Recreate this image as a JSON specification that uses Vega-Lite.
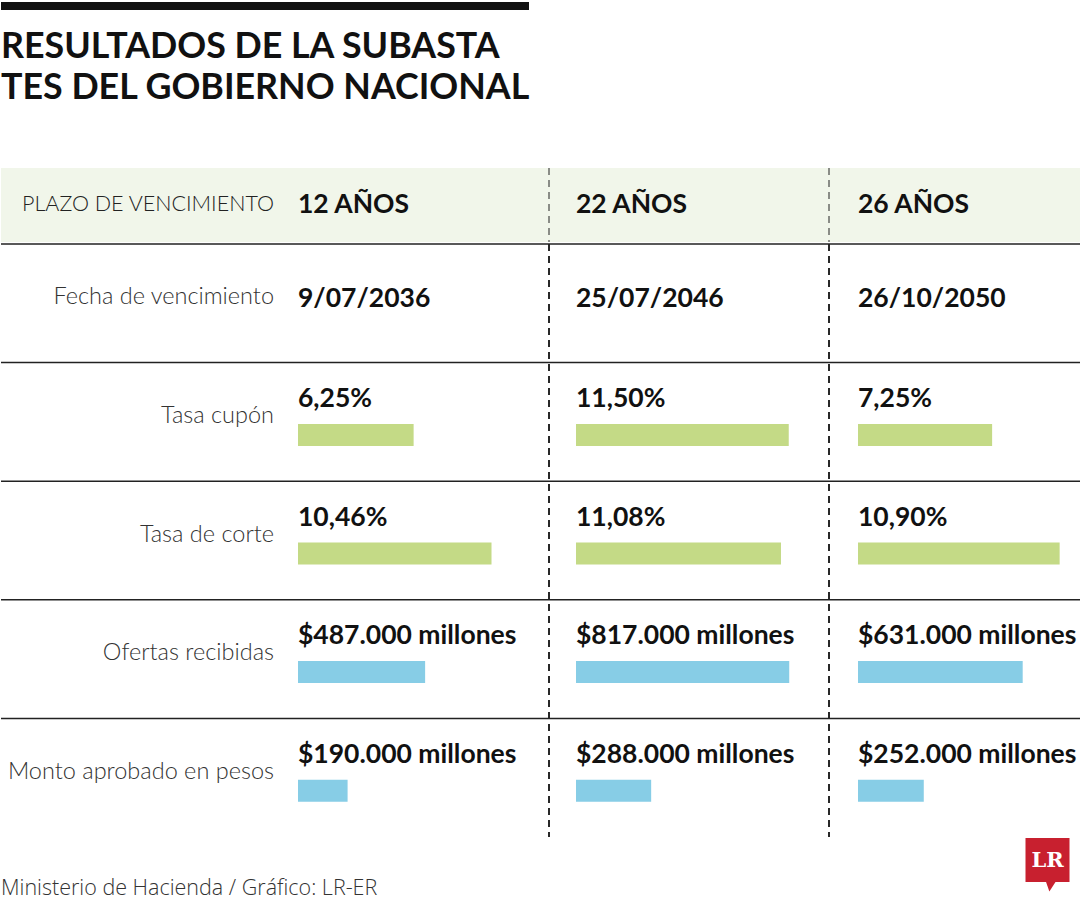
{
  "$schema": "https://vega.github.io/schema/vega-lite/v6.json",
  "background": "white",
  "padding": 0,
  "config": {"view": {"stroke": null}, "concat": {"spacing": 0}},
  "datasets": {
    "filas": [
      {"fila": "Fecha de vencimiento"},
      {"fila": "Tasa cupón"},
      {"fila": "Tasa de corte"},
      {"fila": "Ofertas recibidas"},
      {"fila": "Monto aprobado en pesos"}
    ],
    "columnas": [
      {"plazo": "PLAZO DE VENCIMIENTO"},
      {"plazo": "12 AÑOS"},
      {"plazo": "22 AÑOS"},
      {"plazo": "26 AÑOS"}
    ],
    "celdas": [
      {"plazo": "12 AÑOS", "fila": "Fecha de vencimiento", "tipo": "fecha", "valor": null, "texto": "9/07/2036"},
      {"plazo": "12 AÑOS", "fila": "Tasa cupón", "tipo": "tasa", "valor": 6.25, "texto": "6,25%"},
      {"plazo": "12 AÑOS", "fila": "Tasa de corte", "tipo": "tasa", "valor": 10.46, "texto": "10,46%"},
      {"plazo": "12 AÑOS", "fila": "Ofertas recibidas", "tipo": "pesos", "valor": 487000, "texto": "$487.000 millones"},
      {"plazo": "12 AÑOS", "fila": "Monto aprobado en pesos", "tipo": "pesos", "valor": 190000, "texto": "$190.000 millones"},
      {"plazo": "22 AÑOS", "fila": "Fecha de vencimiento", "tipo": "fecha", "valor": null, "texto": "25/07/2046"},
      {"plazo": "22 AÑOS", "fila": "Tasa cupón", "tipo": "tasa", "valor": 11.5, "texto": "11,50%"},
      {"plazo": "22 AÑOS", "fila": "Tasa de corte", "tipo": "tasa", "valor": 11.08, "texto": "11,08%"},
      {"plazo": "22 AÑOS", "fila": "Ofertas recibidas", "tipo": "pesos", "valor": 817000, "texto": "$817.000 millones"},
      {"plazo": "22 AÑOS", "fila": "Monto aprobado en pesos", "tipo": "pesos", "valor": 288000, "texto": "$288.000 millones"},
      {"plazo": "26 AÑOS", "fila": "Fecha de vencimiento", "tipo": "fecha", "valor": null, "texto": "26/10/2050"},
      {"plazo": "26 AÑOS", "fila": "Tasa cupón", "tipo": "tasa", "valor": 7.25, "texto": "7,25%"},
      {"plazo": "26 AÑOS", "fila": "Tasa de corte", "tipo": "tasa", "valor": 10.9, "texto": "10,90%"},
      {"plazo": "26 AÑOS", "fila": "Ofertas recibidas", "tipo": "pesos", "valor": 631000, "texto": "$631.000 millones"},
      {"plazo": "26 AÑOS", "fila": "Monto aprobado en pesos", "tipo": "pesos", "valor": 252000, "texto": "$252.000 millones"}
    ]
  },
  "spacing": 0,
  "vconcat": [
    {
      "width": 528, "height": 8,
      "view": {"fill": "#111111", "stroke": null},
      "data": {"values": [{}]},
      "mark": {"type": "text", "text": ""},
      "title": {
        "text": ["RESULTADOS DE LA SUBASTA", "TES DEL GOBIERNO NACIONAL"],
        "orient": "bottom", "anchor": "start", "offset": 19,
        "font": "Lato, sans-serif",
        "fontSize": 35.8, "fontWeight": "bold", "lineHeight": 41, "color": "#111111"
      }
    },
    {
      "width": 10, "height": 61,
      "data": {"values": [{}]},
      "mark": {"type": "text", "text": ""}
    },
    {
      "spacing": 0,
      "bounds": "flush",
      "hconcat": [
        {
          "width": 285, "height": 74,
          "view": {"fill": "#f1f6ea", "stroke": null},
          "data": {"name": "columnas"},
          "transform": [{"filter": "datum.plazo === 'PLAZO DE VENCIMIENTO'"}],
          "mark": {"type": "text", "align": "right", "baseline": "middle", "dx": -12, "font": "Lato, sans-serif", "fontSize": 21.5, "fontWeight": 300, "color": "#222222"},
          "encoding": {"x": {"value": "width"}, "text": {"field": "plazo"}}
        },
        {
          "width": 263, "height": 74,
          "view": {"fill": "#f1f6ea", "stroke": null},
          "data": {"name": "columnas"},
          "transform": [{"filter": "datum.plazo === '12 AÑOS'"}],
          "mark": {"type": "text", "align": "left", "baseline": "middle", "dx": 12, "font": "Lato, sans-serif", "fontSize": 26.5, "fontWeight": "bold", "color": "#111111"},
          "encoding": {"x": {"value": 0}, "text": {"field": "plazo"}}
        },
        {
          "width": 280, "height": 74,
          "view": {"fill": "#f1f6ea", "stroke": null},
          "data": {"name": "columnas"},
          "transform": [{"filter": "datum.plazo === '22 AÑOS'"}],
          "layer": [
            {"mark": {"type": "rule", "color": "#222222", "strokeWidth": 1, "strokeDash": [7, 5]}, "encoding": {"x": {"value": 0}}},
            {"mark": {"type": "text", "align": "left", "baseline": "middle", "dx": 27, "font": "Lato, sans-serif", "fontSize": 26.5, "fontWeight": "bold", "color": "#111111"},
             "encoding": {"x": {"value": 0}, "text": {"field": "plazo"}}}
          ]
        },
        {
          "width": 252, "height": 74,
          "view": {"fill": "#f1f6ea", "stroke": null},
          "data": {"name": "columnas"},
          "transform": [{"filter": "datum.plazo === '26 AÑOS'"}],
          "layer": [
            {"mark": {"type": "rule", "color": "#222222", "strokeWidth": 1, "strokeDash": [7, 5]}, "encoding": {"x": {"value": 0}}},
            {"mark": {"type": "text", "align": "left", "baseline": "middle", "dx": 29, "font": "Lato, sans-serif", "fontSize": 26.5, "fontWeight": "bold", "color": "#111111"},
             "encoding": {"x": {"value": 0}, "text": {"field": "plazo"}}}
          ]
        }
      ]
    },
    {
      "spacing": 0,
      "bounds": "flush",
      "hconcat": [
        {
          "width": 285, "height": 593,
          "data": {"name": "filas"},
          "layer": [
            {"mark": {"type": "rule", "color": "#222222", "strokeWidth": 1.5},
             "encoding": {"y": {"field": "fila", "type": "nominal", "bandPosition": 0, "axis": null, "scale": {"type": "band", "domain": ["Fecha de vencimiento", "Tasa cupón", "Tasa de corte", "Ofertas recibidas", "Monto aprobado en pesos"], "paddingInner": 0, "paddingOuter": 0}}}},
            {"mark": {"type": "text", "align": "right", "baseline": "middle", "dx": -12, "dy": -6, "font": "Lato, sans-serif", "fontSize": 23.5, "fontWeight": 300, "color": "#333333"},
             "encoding": {"x": {"value": "width"}, "y": {"field": "fila", "type": "nominal", "bandPosition": 0.5, "axis": null, "scale": {"type": "band", "domain": ["Fecha de vencimiento", "Tasa cupón", "Tasa de corte", "Ofertas recibidas", "Monto aprobado en pesos"], "paddingInner": 0, "paddingOuter": 0}}, "text": {"field": "fila"}}}
          ]
        },
        {
          "width": 263, "height": 593,
          "data": {"name": "celdas"},
          "transform": [{"filter": "datum.plazo === '12 AÑOS'"}],
          "layer": [
            {"mark": {"type": "rule", "color": "#222222", "strokeWidth": 1.5},
             "encoding": {"y": {"field": "fila", "type": "nominal", "bandPosition": 0, "axis": null, "scale": {"type": "band", "domain": ["Fecha de vencimiento", "Tasa cupón", "Tasa de corte", "Ofertas recibidas", "Monto aprobado en pesos"], "paddingInner": 0, "paddingOuter": 0}}}},
            {"transform": [{"filter": "datum.tipo === 'fecha'"}],
             "mark": {"type": "text", "align": "left", "baseline": "middle", "dx": 12, "dy": -4, "font": "Lato, sans-serif", "fontSize": 26.5, "fontWeight": "bold", "color": "#111111"},
             "encoding": {"x": {"value": 0}, "y": {"field": "fila", "type": "nominal", "bandPosition": 0.5, "axis": null, "scale": {"type": "band", "domain": ["Fecha de vencimiento", "Tasa cupón", "Tasa de corte", "Ofertas recibidas", "Monto aprobado en pesos"], "paddingInner": 0, "paddingOuter": 0}}, "text": {"field": "texto"}}},
            {"transform": [{"filter": "datum.tipo !== 'fecha'"}],
             "mark": {"type": "text", "align": "left", "baseline": "middle", "dx": 12, "dy": -23, "font": "Lato, sans-serif", "fontSize": 26.5, "fontWeight": "bold", "color": "#111111"},
             "encoding": {"x": {"value": 0}, "y": {"field": "fila", "type": "nominal", "bandPosition": 0.5, "axis": null, "scale": {"type": "band", "domain": ["Fecha de vencimiento", "Tasa cupón", "Tasa de corte", "Ofertas recibidas", "Monto aprobado en pesos"], "paddingInner": 0, "paddingOuter": 0}}, "text": {"field": "texto"}}},
            {"transform": [{"filter": "datum.tipo === 'tasa'"}],
             "mark": {"type": "bar", "height": 22, "yOffset": 13, "color": "#c4da86"},
             "encoding": {"x": {"field": "valor", "type": "quantitative", "axis": null, "scale": {"domain": [0, 12], "range": [12, 234], "nice": false}}, "y": {"field": "fila", "type": "nominal", "axis": null, "scale": {"type": "band", "domain": ["Fecha de vencimiento", "Tasa cupón", "Tasa de corte", "Ofertas recibidas", "Monto aprobado en pesos"], "paddingInner": 0, "paddingOuter": 0}}}},
            {"transform": [{"filter": "datum.tipo === 'pesos'"}],
             "mark": {"type": "bar", "height": 22, "yOffset": 13, "color": "#87cde6"},
             "encoding": {"x": {"field": "valor", "type": "quantitative", "axis": null, "scale": {"domain": [0, 800000], "range": [12, 220.8], "nice": false}}, "y": {"field": "fila", "type": "nominal", "axis": null, "scale": {"type": "band", "domain": ["Fecha de vencimiento", "Tasa cupón", "Tasa de corte", "Ofertas recibidas", "Monto aprobado en pesos"], "paddingInner": 0, "paddingOuter": 0}}}}
          ],
          "resolve": {"scale": {"x": "independent"}}
        },
        {
          "width": 280, "height": 593,
          "data": {"name": "celdas"},
          "transform": [{"filter": "datum.plazo === '22 AÑOS'"}],
          "layer": [
            {"mark": {"type": "rule", "color": "#222222", "strokeWidth": 1.5},
             "encoding": {"y": {"field": "fila", "type": "nominal", "bandPosition": 0, "axis": null, "scale": {"type": "band", "domain": ["Fecha de vencimiento", "Tasa cupón", "Tasa de corte", "Ofertas recibidas", "Monto aprobado en pesos"], "paddingInner": 0, "paddingOuter": 0}}}},
            {"mark": {"type": "rule", "color": "#222222", "strokeWidth": 1, "strokeDash": [7, 5]}, "encoding": {"x": {"value": 0}}},
            {"transform": [{"filter": "datum.tipo === 'fecha'"}],
             "mark": {"type": "text", "align": "left", "baseline": "middle", "dx": 27, "dy": -4, "font": "Lato, sans-serif", "fontSize": 26.5, "fontWeight": "bold", "color": "#111111"},
             "encoding": {"x": {"value": 0}, "y": {"field": "fila", "type": "nominal", "bandPosition": 0.5, "axis": null, "scale": {"type": "band", "domain": ["Fecha de vencimiento", "Tasa cupón", "Tasa de corte", "Ofertas recibidas", "Monto aprobado en pesos"], "paddingInner": 0, "paddingOuter": 0}}, "text": {"field": "texto"}}},
            {"transform": [{"filter": "datum.tipo !== 'fecha'"}],
             "mark": {"type": "text", "align": "left", "baseline": "middle", "dx": 27, "dy": -23, "font": "Lato, sans-serif", "fontSize": 26.5, "fontWeight": "bold", "color": "#111111"},
             "encoding": {"x": {"value": 0}, "y": {"field": "fila", "type": "nominal", "bandPosition": 0.5, "axis": null, "scale": {"type": "band", "domain": ["Fecha de vencimiento", "Tasa cupón", "Tasa de corte", "Ofertas recibidas", "Monto aprobado en pesos"], "paddingInner": 0, "paddingOuter": 0}}, "text": {"field": "texto"}}},
            {"transform": [{"filter": "datum.tipo === 'tasa'"}],
             "mark": {"type": "bar", "height": 22, "yOffset": 13, "color": "#c4da86"},
             "encoding": {"x": {"field": "valor", "type": "quantitative", "axis": null, "scale": {"domain": [0, 12], "range": [27, 249], "nice": false}}, "y": {"field": "fila", "type": "nominal", "axis": null, "scale": {"type": "band", "domain": ["Fecha de vencimiento", "Tasa cupón", "Tasa de corte", "Ofertas recibidas", "Monto aprobado en pesos"], "paddingInner": 0, "paddingOuter": 0}}}},
            {"transform": [{"filter": "datum.tipo === 'pesos'"}],
             "mark": {"type": "bar", "height": 22, "yOffset": 13, "color": "#87cde6"},
             "encoding": {"x": {"field": "valor", "type": "quantitative", "axis": null, "scale": {"domain": [0, 800000], "range": [27, 235.8], "nice": false}}, "y": {"field": "fila", "type": "nominal", "axis": null, "scale": {"type": "band", "domain": ["Fecha de vencimiento", "Tasa cupón", "Tasa de corte", "Ofertas recibidas", "Monto aprobado en pesos"], "paddingInner": 0, "paddingOuter": 0}}}}
          ],
          "resolve": {"scale": {"x": "independent"}}
        },
        {
          "width": 252, "height": 593,
          "data": {"name": "celdas"},
          "transform": [{"filter": "datum.plazo === '26 AÑOS'"}],
          "layer": [
            {"mark": {"type": "rule", "color": "#222222", "strokeWidth": 1.5},
             "encoding": {"y": {"field": "fila", "type": "nominal", "bandPosition": 0, "axis": null, "scale": {"type": "band", "domain": ["Fecha de vencimiento", "Tasa cupón", "Tasa de corte", "Ofertas recibidas", "Monto aprobado en pesos"], "paddingInner": 0, "paddingOuter": 0}}}},
            {"mark": {"type": "rule", "color": "#222222", "strokeWidth": 1, "strokeDash": [7, 5]}, "encoding": {"x": {"value": 0}}},
            {"transform": [{"filter": "datum.tipo === 'fecha'"}],
             "mark": {"type": "text", "align": "left", "baseline": "middle", "dx": 29, "dy": -4, "font": "Lato, sans-serif", "fontSize": 26.5, "fontWeight": "bold", "color": "#111111"},
             "encoding": {"x": {"value": 0}, "y": {"field": "fila", "type": "nominal", "bandPosition": 0.5, "axis": null, "scale": {"type": "band", "domain": ["Fecha de vencimiento", "Tasa cupón", "Tasa de corte", "Ofertas recibidas", "Monto aprobado en pesos"], "paddingInner": 0, "paddingOuter": 0}}, "text": {"field": "texto"}}},
            {"transform": [{"filter": "datum.tipo !== 'fecha'"}],
             "mark": {"type": "text", "align": "left", "baseline": "middle", "dx": 29, "dy": -23, "font": "Lato, sans-serif", "fontSize": 26.5, "fontWeight": "bold", "color": "#111111"},
             "encoding": {"x": {"value": 0}, "y": {"field": "fila", "type": "nominal", "bandPosition": 0.5, "axis": null, "scale": {"type": "band", "domain": ["Fecha de vencimiento", "Tasa cupón", "Tasa de corte", "Ofertas recibidas", "Monto aprobado en pesos"], "paddingInner": 0, "paddingOuter": 0}}, "text": {"field": "texto"}}},
            {"transform": [{"filter": "datum.tipo === 'tasa'"}],
             "mark": {"type": "bar", "height": 22, "yOffset": 13, "color": "#c4da86"},
             "encoding": {"x": {"field": "valor", "type": "quantitative", "axis": null, "scale": {"domain": [0, 12], "range": [29, 251], "nice": false}}, "y": {"field": "fila", "type": "nominal", "axis": null, "scale": {"type": "band", "domain": ["Fecha de vencimiento", "Tasa cupón", "Tasa de corte", "Ofertas recibidas", "Monto aprobado en pesos"], "paddingInner": 0, "paddingOuter": 0}}}},
            {"transform": [{"filter": "datum.tipo === 'pesos'"}],
             "mark": {"type": "bar", "height": 22, "yOffset": 13, "color": "#87cde6"},
             "encoding": {"x": {"field": "valor", "type": "quantitative", "axis": null, "scale": {"domain": [0, 800000], "range": [29, 237.8], "nice": false}}, "y": {"field": "fila", "type": "nominal", "axis": null, "scale": {"type": "band", "domain": ["Fecha de vencimiento", "Tasa cupón", "Tasa de corte", "Ofertas recibidas", "Monto aprobado en pesos"], "paddingInner": 0, "paddingOuter": 0}}}}
          ],
          "resolve": {"scale": {"x": "independent"}}
        }
      ]
    },
    {
      "width": 1080, "height": 65,
      "data": {"values": [{"fuente": "Ministerio de Hacienda / Gráfico: LR-ER", "logo": "LR"}]},
      "layer": [
        {"mark": {"type": "text", "align": "left", "baseline": "middle", "font": "Open Sans, sans-serif", "fontSize": 21.5, "fontWeight": 300, "color": "#333333"},
         "encoding": {"x": {"value": 0}, "y": {"value": 51}, "text": {"field": "fuente"}}},
        {"mark": {"type": "point", "shape": "square", "filled": true, "size": 1936, "color": "#c8202f", "opacity": 1, "xOffset": -33.5},
         "encoding": {"x": {"value": "width"}, "y": {"value": 22}}},
        {"mark": {"type": "point", "shape": "M -1 -1 L 1 -1 L -0.3 1 Z", "filled": true, "size": 120, "color": "#c8202f", "opacity": 1, "xOffset": -30},
         "encoding": {"x": {"value": "width"}, "y": {"value": 48}}},
        {"mark": {"type": "text", "align": "center", "baseline": "middle", "font": "DejaVu Serif, Liberation Serif, serif", "fontSize": 21, "fontWeight": "bold", "color": "white", "xOffset": -33.5},
         "encoding": {"x": {"value": "width"}, "y": {"value": 23}, "text": {"field": "logo"}}}
      ]
    }
  ]
}
